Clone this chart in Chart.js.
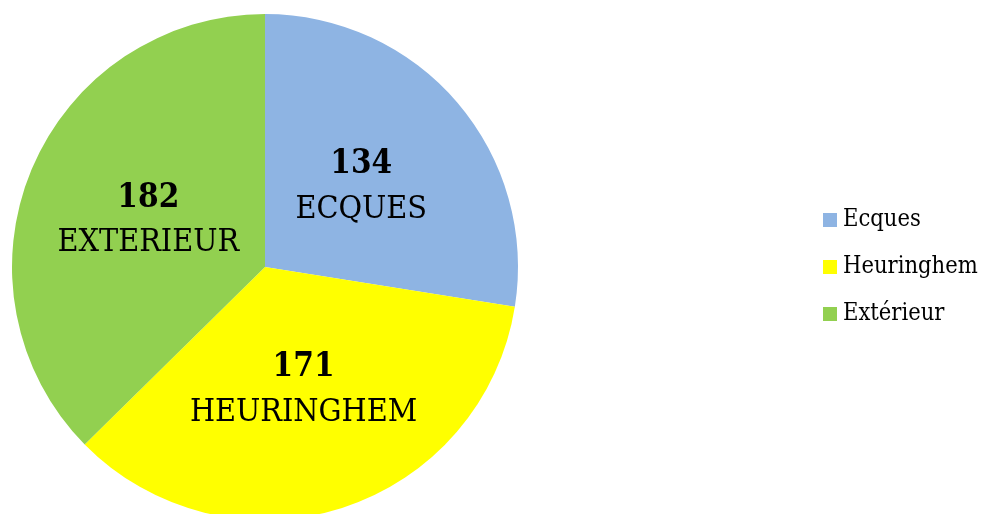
<!DOCTYPE html>
<html>
<head>
<meta charset="utf-8">
<script src="https://cdn.jsdelivr.net/npm/chart.js@4/dist/chart.umd.min.js"></script>
<style>
  html, body { margin: 0; padding: 0; background: #fff; overflow: hidden; }
  #wrap { position: relative; width: 987px; height: 522px; }
</style>
</head>
<body>
<div id="wrap"><canvas id="chart"></canvas></div>
<script>
// data
const categories = ['Ecques', 'Heuringhem', 'Extérieur'];
const sliceNames = ['ECQUES', 'HEURINGHEM', 'EXTERIEUR'];
const counts = [134, 171, 182];
const colors = ['#8EB4E3', '#FFFF00', '#92D050'];

const serif = '"DejaVu Serif Condensed", "DejaVu Serif", serif';

// label in each slice: bold count, name below
const sliceLabels = {
    id: 'sliceLabels',
    afterDatasetsDraw(chart) {
        const ctx = chart.ctx;
        const meta = chart.getDatasetMeta(0);
        ctx.save();
        ctx.fillStyle = '#000';
        ctx.textAlign = 'center';
        ctx.textBaseline = 'middle';
        meta.data.forEach((arc, i) => {
            const p = arc.tooltipPosition();
            ctx.font = 'bold 33px ' + serif;
            ctx.fillText(String(counts[i]), p.x, p.y - 20);
            ctx.font = '32px ' + serif;
            ctx.fillText(sliceNames[i], p.x, p.y + 25);
        });
        ctx.restore();
    }
};

// legend on the right, drawn by hand
const sideLegend = {
    id: 'sideLegend',
    afterDraw(chart) {
        const ctx = chart.ctx;
        ctx.save();
        ctx.font = '23.5px ' + serif;
        ctx.textAlign = 'left';
        ctx.textBaseline = 'middle';
        categories.forEach((name, i) => {
            const y = 220 + i * 47;
            ctx.fillStyle = colors[i];
            ctx.fillRect(823, y - 7, 14, 14);
            ctx.fillStyle = '#000';
            ctx.fillText(name, 843, y);
        });
        ctx.restore();
    }
};

new Chart(document.getElementById('chart'), {
    type: 'pie',
    data: {
        labels: categories,
        datasets: [{
            data: counts,
            backgroundColor: colors,
            borderWidth: 0,
            hoverOffset: 0
        }]
    },
    options: {
        responsive: true,
        maintainAspectRatio: false,
        animation: false,
        layout: { padding: { left: 12, right: 469, top: 14, bottom: 2 } },
        plugins: {
            legend: { display: false },
            tooltip: { enabled: false }
        }
    },
    plugins: [sliceLabels, sideLegend]
});
</script>
</body>
</html>
